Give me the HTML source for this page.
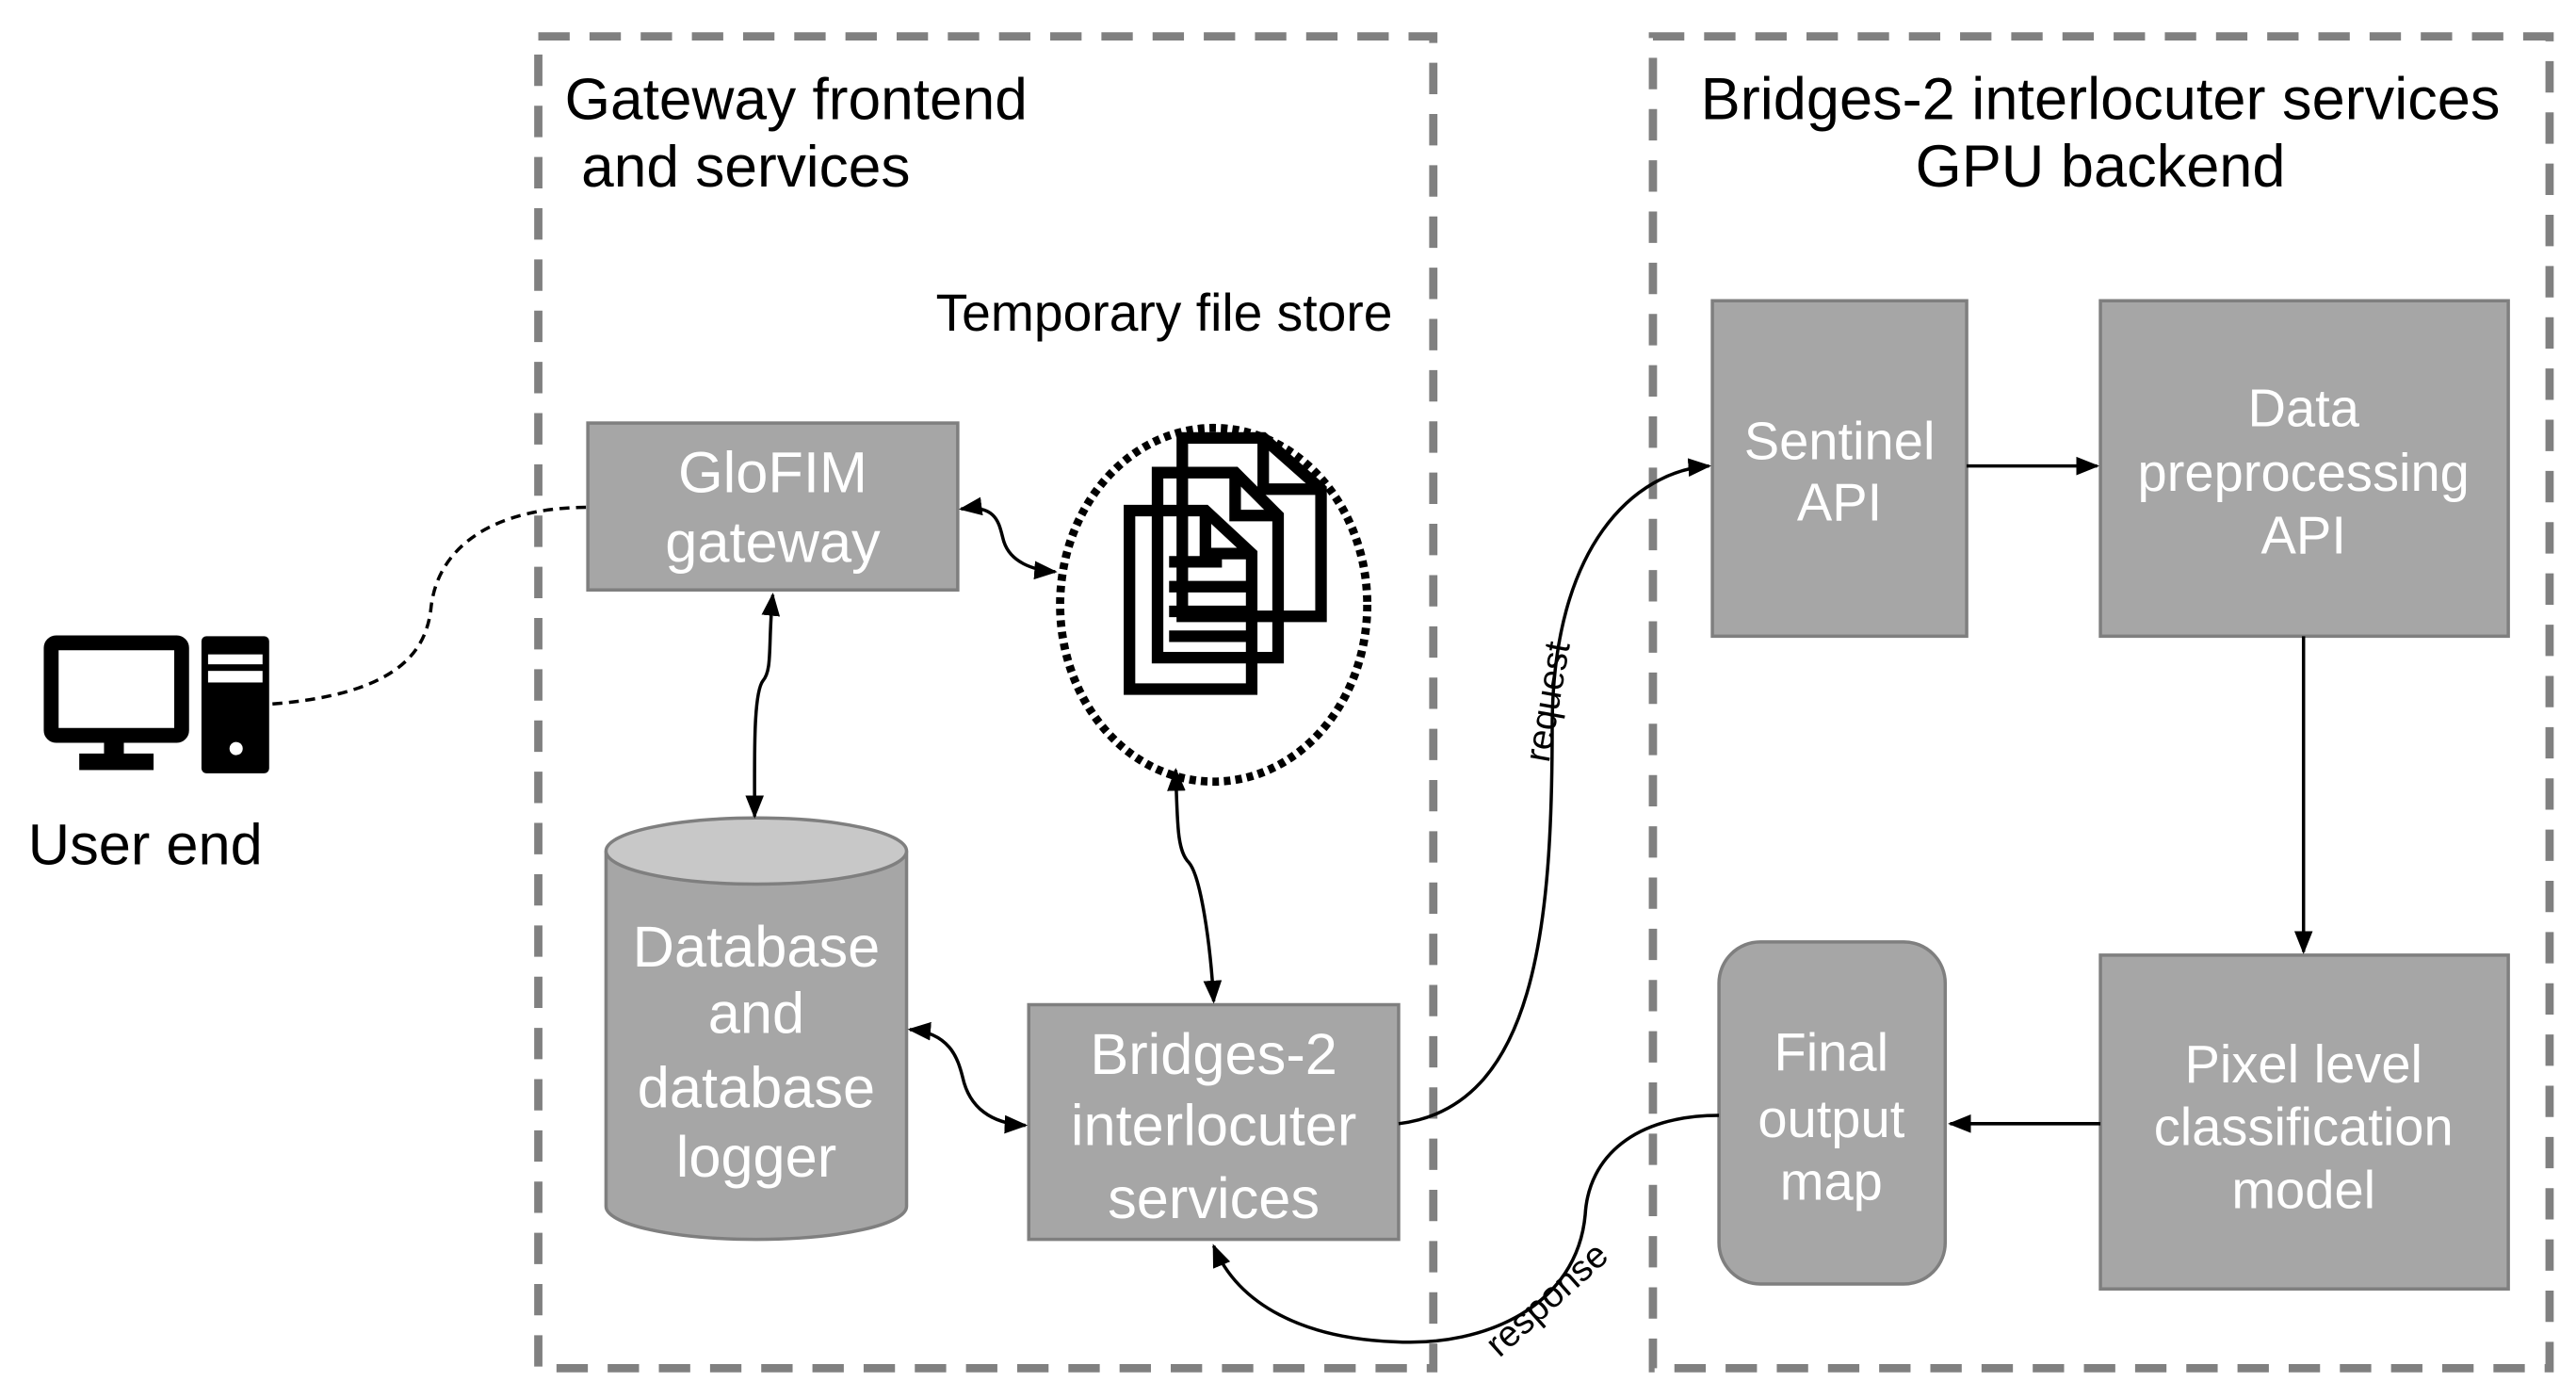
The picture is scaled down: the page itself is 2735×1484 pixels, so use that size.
<!DOCTYPE html>
<html><head><meta charset="utf-8"><style>
html,body{margin:0;padding:0;background:#fff;}
svg{display:block;}
text{font-family:"Liberation Sans",Arial,sans-serif;}
</style></head><body>
<svg width="2735" height="1484" viewBox="0 0 1560 846" preserveAspectRatio="none" xmlns="http://www.w3.org/2000/svg">
<defs>
<marker id="a" viewBox="0 0 10 10" refX="9" refY="5" markerWidth="7" markerHeight="7" orient="auto-start-reverse"><path d="M0,1 L10,5 L0,9 z" fill="#000"/></marker>
</defs>
<rect x="326" y="22" width="542" height="806" fill="none" stroke="#808080" stroke-width="5" stroke-dasharray="19,12"/>
<rect x="1001" y="22" width="543" height="806" fill="none" stroke="#808080" stroke-width="5" stroke-dasharray="19,12"/>
<g font-size="35.5" fill="#000">
<text x="342" y="72">Gateway frontend</text>
<text x="352" y="113">and services</text>
<text x="1272" y="72" text-anchor="middle" font-size="36">Bridges-2 interlocuter services</text>
<text x="1272" y="113" text-anchor="middle" font-size="36">GPU backend</text>
</g>
<text x="705" y="200" font-size="31.5" text-anchor="middle">Temporary file store</text>
<rect x="31" y="389" width="79" height="56" rx="3" fill="none" stroke="#000" stroke-width="9"/>
<rect x="63" y="449" width="12" height="10" fill="#000"/>
<rect x="48" y="456" width="45" height="10" fill="#000"/>
<rect x="122" y="385" width="41" height="83" rx="3" fill="#000"/>
<rect x="126" y="396" width="33" height="6" fill="#fff"/>
<rect x="126" y="406" width="33" height="7" fill="#fff"/>
<circle cx="143" cy="453" r="4" fill="#fff"/>
<text x="17" y="523" font-size="35">User end</text>
<rect x="356" y="256" width="224" height="101" fill="#a6a6a6" stroke="#7f7f7f" stroke-width="2"/>
<g font-size="35" fill="#fff" text-anchor="middle">
<text x="468" y="298">GloFIM</text>
<text x="468" y="340">gateway</text>
</g>
<ellipse cx="735" cy="366" rx="93" ry="107" fill="none" stroke="#000" stroke-width="5" stroke-dasharray="4,3"/>
<g fill="none" stroke="#000" stroke-width="7">
<path d="M716,265 L765,265 L800,296 L800,373 L716,373 z"/>
<path d="M765,265 L765,296 L800,296"/>
<path d="M701,286 L748,286 L774,312 L774,398 L701,398 z"/>
<path d="M748,286 L748,312 L774,312"/>
<path d="M684,309 L730,309 L758,335 L758,417 L684,417 z"/>
<path d="M730,309 L730,335 L758,335"/>
<path d="M708,340 L740,340 M708,355 L758,355 M708,370 L758,370 M708,385 L758,385"/>
</g>
<path d="M367,515 L367,730 A91,20 0 0 0 549,730 L549,515" fill="#a6a6a6" stroke="#7f7f7f" stroke-width="2"/>
<ellipse cx="458" cy="515" rx="91" ry="20" fill="#c8c8c8" stroke="#7f7f7f" stroke-width="2"/>
<g font-size="35" fill="#fff" text-anchor="middle">
<text x="458" y="585">Database</text>
<text x="458" y="625">and</text>
<text x="458" y="670">database</text>
<text x="458" y="712">logger</text>
</g>
<rect x="623" y="608" width="224" height="142" fill="#a6a6a6" stroke="#7f7f7f" stroke-width="2"/>
<g font-size="35" fill="#fff" text-anchor="middle">
<text x="735" y="650">Bridges-2</text>
<text x="735" y="693">interlocuter</text>
<text x="735" y="737">services</text>
</g>
<rect x="1037" y="182" width="154" height="203" fill="#a6a6a6" stroke="#7f7f7f" stroke-width="2"/>
<g font-size="32" fill="#fff" text-anchor="middle">
<text x="1114" y="278">Sentinel</text>
<text x="1114" y="315">API</text>
</g>
<rect x="1272" y="182" width="247" height="203" fill="#a6a6a6" stroke="#7f7f7f" stroke-width="2"/>
<g font-size="32" fill="#fff" text-anchor="middle">
<text x="1395" y="258">Data</text>
<text x="1395" y="297">preprocessing</text>
<text x="1395" y="335">API</text>
</g>
<rect x="1272" y="578" width="247" height="202" fill="#a6a6a6" stroke="#7f7f7f" stroke-width="2"/>
<g font-size="32" fill="#fff" text-anchor="middle">
<text x="1395" y="655">Pixel level</text>
<text x="1395" y="693">classification</text>
<text x="1395" y="731">model</text>
</g>
<rect x="1041" y="570" width="137" height="207" rx="25" fill="#a6a6a6" stroke="#7f7f7f" stroke-width="2"/>
<g font-size="32" fill="#fff" text-anchor="middle">
<text x="1109" y="648">Final</text>
<text x="1109" y="688">output</text>
<text x="1109" y="726">map</text>
</g>
<path d="M165,426 C240,420 258,395 261,368 C265,330 300,307 356,307" fill="none" stroke="#000" stroke-width="2" stroke-dasharray="6,4"/>
<g fill="none" stroke="#000" stroke-width="2">
<path d="M582,308 C605,305 605,318 608,328 C612,340 625,345 639,346" marker-start="url(#a)" marker-end="url(#a)"/>
<path d="M468,360 C465,390 468,405 462,412 C456,420 457,460 457,494" marker-start="url(#a)" marker-end="url(#a)"/>
<path d="M712,466 C713,500 713,515 720,522 C727,530 733,570 735,606" marker-start="url(#a)" marker-end="url(#a)"/>
<path d="M551,623 C575,625 580,640 583,652 C587,670 600,680 621,681" marker-start="url(#a)" marker-end="url(#a)"/>
<path d="M847,680 C930,670 940,560 940,440 C940,330 990,285 1035,282" marker-end="url(#a)"/>
<path d="M1191,282 L1270,282" marker-end="url(#a)"/>
<path d="M1395,385 L1395,576" marker-end="url(#a)"/>
<path d="M1272,680 L1181,680" marker-end="url(#a)"/>
<path d="M1041,675 C990,675 962,700 960,735 C955,790 900,815 845,812 C790,810 750,790 735,754" marker-end="url(#a)"/>
</g>
<text x="0" y="0" font-size="22" transform="translate(938,462) rotate(-80)">request</text>
<text x="0" y="0" font-size="22" transform="translate(908,822) rotate(-42)">response</text>
</svg>
</body></html>
